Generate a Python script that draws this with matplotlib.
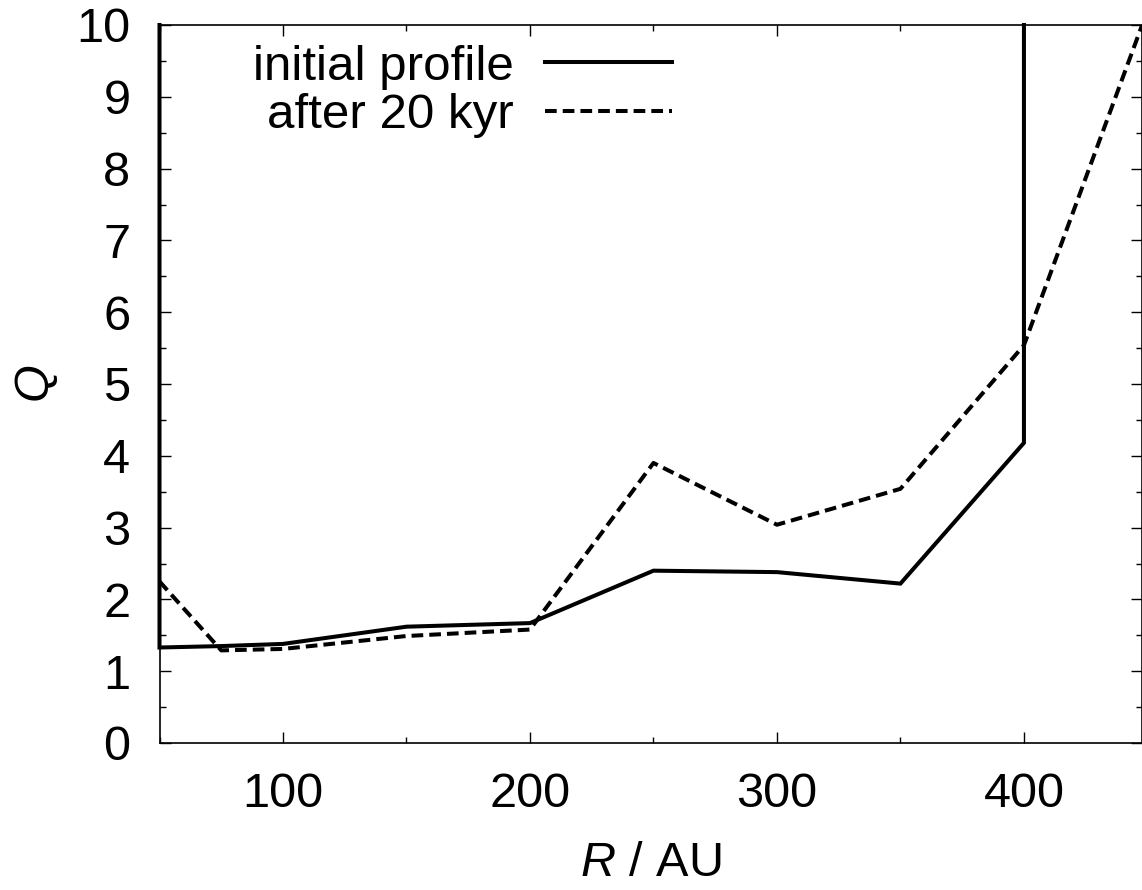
import matplotlib
matplotlib.use("Agg")
import matplotlib.pyplot as plt
from matplotlib.ticker import MultipleLocator

plt.rcParams['font.family'] = ['Liberation Sans', 'DejaVu Sans']
plt.rcParams['mathtext.fontset'] = 'custom'
plt.rcParams['mathtext.rm'] = 'Liberation Sans'
plt.rcParams['mathtext.it'] = 'Liberation Sans:italic'

# initial Q profile (vertical walls at inner/outer edge)
r_init = [50, 50, 75, 100, 150, 200, 250, 300, 350, 400, 400]
q_init = [10, 1.33, 1.35, 1.38, 1.62, 1.67, 2.40, 2.38, 2.22, 4.18, 10]

# after 20 kyr
r_late = [50, 75, 100, 150, 200, 250, 300, 350, 400, 450]
q_late = [2.25, 1.29, 1.31, 1.49, 1.58, 3.90, 3.04, 3.54, 5.54, 10.2]

fig = plt.figure(figsize=(11.42, 8.90), dpi=100)
ax = fig.add_axes([159.5/1142, 1 - 743/890, 982.5/1142, 718/890])

ax.plot(r_init, q_init, color='black', lw=2.9, solid_joinstyle='miter',
        clip_on=False, label='initial profile')
ax.plot(r_late, q_late, color='black', lw=2.9, dashes=(2.9, 1.5),
        label='after 20 kyr')

ax.set_xlim(50, 447.8)
ax.set_ylim(0, 10)
ax.xaxis.set_major_locator(MultipleLocator(100))
ax.xaxis.set_minor_locator(MultipleLocator(50))
ax.yaxis.set_major_locator(MultipleLocator(1))
ax.yaxis.set_minor_locator(MultipleLocator(0.5))

ax.tick_params(which='both', direction='in', top=True, right=True,
               labelsize=35, width=1)
ax.tick_params(which='major', length=8)
ax.tick_params(which='minor', length=4)
ax.tick_params(axis='y', pad=21)
ax.tick_params(axis='x', pad=21)
for s in ax.spines.values():
    s.set_linewidth(1.2)

ax.set_xlabel('$R$ / AU', fontsize=35, labelpad=17)
ax.set_ylabel('$Q$', fontsize=35, labelpad=12)

ax.legend(loc='upper right', bbox_to_anchor=(0.534, 0.99), frameon=False,
          markerfirst=False, fontsize=35.5, handlelength=2.58,
          handletextpad=0.63, labelspacing=0.08, borderpad=0.25,
          borderaxespad=0)

fig.savefig('out.png', dpi=100)
